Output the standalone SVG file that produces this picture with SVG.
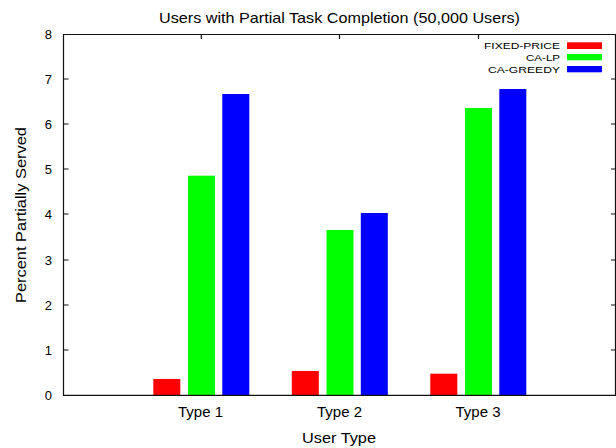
<svg xmlns="http://www.w3.org/2000/svg" width="616" height="448" viewBox="0 0 616 448">
<style>
text{font-family:"Liberation Sans",Arial,sans-serif;fill:#000}
.tick{font-size:13px;text-anchor:end}
.xl{font-size:15px;text-anchor:middle}
.lg{font-size:9.5px;text-anchor:end}
.ax{stroke:#111;stroke-width:1.2;fill:none}
.r{fill:#ff0000}.g{fill:#00ff00}.b{fill:#0000ff}
</style>
<rect width="616" height="448" fill="#fff"/>
<text x="339.5" y="23" font-size="15" text-anchor="middle" textLength="361" lengthAdjust="spacingAndGlyphs">Users with Partial Task Completion (50,000 Users)</text>
<g id="bars">
<rect class="r" x="153.3" y="379" width="27" height="16"/>
<rect class="g" x="188" y="175.7" width="27" height="219.3"/>
<rect class="b" x="222.3" y="94" width="27" height="301"/>
<rect class="r" x="291.8" y="371" width="27" height="24"/>
<rect class="g" x="326.5" y="230" width="27" height="165"/>
<rect class="b" x="360.8" y="213" width="27" height="182"/>
<rect class="r" x="430.3" y="373.7" width="27" height="21.3"/>
<rect class="g" x="465" y="108" width="27" height="287"/>
<rect class="b" x="499.3" y="89" width="27" height="306"/>
</g>
<g id="frame">
<path class="ax" d="M63.5 34.5H615.5V395.3H63.5Z" stroke-width="1.5"/>
<path class="ax" d="M63.5 350H68.5M63.5 305H68.5M63.5 260H68.5M63.5 214H68.5M63.5 169H68.5M63.5 124H68.5M63.5 79H68.5M611 350H616M611 305H616M611 260H616M611 214H616M611 169H616M611 124H616M611 79H616M201.3 34.5V39M339.5 34.5V39M478.5 34.5V39"/>
</g>
<g id="yticks">
<text class="tick" x="52" y="400">0</text>
<text class="tick" x="52" y="355">1</text>
<text class="tick" x="52" y="310">2</text>
<text class="tick" x="52" y="265">3</text>
<text class="tick" x="52" y="219">4</text>
<text class="tick" x="52" y="174">5</text>
<text class="tick" x="52" y="129">6</text>
<text class="tick" x="52" y="84">7</text>
<text class="tick" x="52" y="39">8</text>
</g>
<g id="xticks">
<text class="xl" x="200.5" y="416.5">Type 1</text>
<text class="xl" x="339.5" y="416.5">Type 2</text>
<text class="xl" x="478" y="416.5">Type 3</text>
</g>
<text x="339" y="443" font-size="15" text-anchor="middle" textLength="74" lengthAdjust="spacingAndGlyphs">User Type</text>
<text transform="translate(26 215) rotate(-90)" font-size="15" text-anchor="middle" textLength="176" lengthAdjust="spacingAndGlyphs">Percent Partially Served</text>
<g id="legend">
<text class="lg" x="560" y="49" textLength="76" lengthAdjust="spacingAndGlyphs">FIXED-PRICE</text>
<rect class="r" x="567" y="42.3" width="35" height="6.7"/>
<text class="lg" x="560" y="60.7" textLength="34" lengthAdjust="spacingAndGlyphs">CA-LP</text>
<rect class="g" x="567" y="54" width="35" height="6.3"/>
<text class="lg" x="560" y="72.5" textLength="72" lengthAdjust="spacingAndGlyphs">CA-GREEDY</text>
<rect class="b" x="567" y="66" width="35" height="6.3"/>
</g>
</svg>
